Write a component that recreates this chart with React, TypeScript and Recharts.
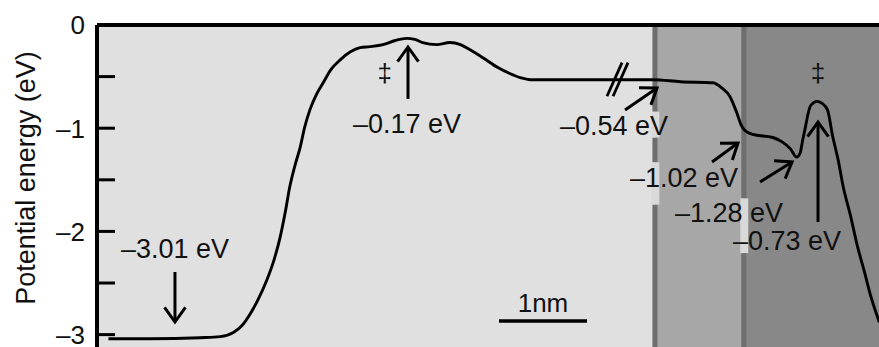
import React from 'react'
import {
  LineChart,
  Line,
  XAxis,
  YAxis,
  ReferenceArea,
  ReferenceLine,
  ReferenceDot,
} from 'recharts'

// reaction coordinate (nm) and potential energy (eV)
const POSITION_NM = [
  0.13, 0.6, 1.17, 1.4, 1.55, 1.65, 1.74, 1.83, 1.93, 2.01, 2.08, 2.14, 2.19, 2.25, 2.31, 2.36,
  2.42, 2.49, 2.57, 2.66, 2.76, 2.88, 2.99, 3.1, 3.25, 3.39, 3.52, 3.61, 3.7, 3.86, 4.01, 4.13,
  4.24, 4.39, 4.55, 4.69, 4.81, 4.92, 5.26, 5.91, 6.32, 6.63, 7.0, 7.1, 7.19, 7.27, 7.32, 7.36,
  7.45, 7.68, 7.78, 7.88, 7.95, 7.99, 8.02, 8.05, 8.08, 8.11, 8.18, 8.24, 8.3, 8.36, 8.42, 8.48,
  8.56, 8.64, 8.72, 8.78, 8.89,
]
const ENERGY_EV = [
  -3.04, -3.04, -3.03, -3.02, -2.98, -2.91, -2.8, -2.66, -2.47, -2.28, -2.06, -1.81, -1.57, -1.36,
  -1.18, -0.99, -0.82, -0.68, -0.56, -0.43, -0.34, -0.26, -0.22, -0.21, -0.19, -0.15, -0.13, -0.14,
  -0.17, -0.19, -0.17, -0.19, -0.24, -0.32, -0.41, -0.47, -0.51, -0.53, -0.53, -0.53, -0.53, -0.55,
  -0.56, -0.61, -0.69, -0.85, -0.97, -1.02, -1.06, -1.09, -1.13, -1.2, -1.28, -1.24, -1.11, -0.99,
  -0.86, -0.78, -0.74, -0.76, -0.82, -1.08, -1.3, -1.57, -1.84, -2.14, -2.39, -2.59, -2.88,
]
const Y_TICKS = [0, -0.5, -1, -1.5, -2, -2.5, -3]
const X_MAX = 8.886
const Y_MIN = -3.12

// shaded zones (nm)
const ZONES = [
  { x1: 0, x2: 6.34, fill: '#e0e0e0' },
  { x1: 6.34, x2: 7.35, fill: '#a7a7a7' },
  { x1: 7.35, x2: X_MAX, fill: '#888888' },
]
// zone separators, drawn in pieces so labels can sit on top
const SEPARATORS = [
  { x: 6.34, from: 0, to: -0.84 },
  { x: 6.34, from: -1.09, to: -1.33 },
  { x: 6.34, from: -1.74, to: Y_MIN },
  { x: 7.35, from: 0, to: -1.68 },
  { x: 7.35, from: -2.21, to: Y_MIN },
]
const PATCHES = [
  { x1: 6.3, x2: 6.39, y1: -0.84, y2: -1.09 },
  { x1: 6.3, x2: 6.39, y1: -1.33, y2: -1.74 },
  { x1: 7.31, x2: 7.4, y1: -1.68, y2: -2.21 },
]

const LABELS = [
  { text: '–3.01 eV', x: 0.273, y: -2.258 },
  { text: '–0.17 eV', x: 2.909, y: -1.047 },
  { text: '–0.54 eV', x: 5.261, y: -1.066 },
  { text: '–1.02 eV', x: 6.057, y: -1.57 },
  { text: '–1.28 eV', x: 6.568, y: -1.909 },
  { text: '–0.73 eV', x: 7.227, y: -2.18 },
]
const DAGGERS = [
  { x: 3.27, y: -0.552 },
  { x: 8.193, y: -0.552 },
]
const ARROWS = [
  { from: [0.886, -2.393], to: [0.886, -2.878] },
  { from: [3.534, -0.717], to: [3.534, -0.213] },
  { from: [6.0, -0.824], to: [6.364, -0.61] },
  { from: [6.989, -1.327], to: [7.284, -1.143] },
  { from: [7.534, -1.521], to: [7.898, -1.327] },
  { from: [8.193, -1.909], to: [8.193, -0.94] },
]
const BREAK_MARKS = [
  { from: [5.795, -0.69], to: [5.966, -0.364] },
  { from: [5.864, -0.69], to: [6.034, -0.364] },
]
const SCALE_BAR = { from: 4.568, to: 5.568, y: -2.868, text: '1nm', textY: -2.781 }

const FONT = '"Liberation Sans", Arial, Helvetica, sans-serif'
const INK = '#111'

const rows = POSITION_NM.map((x, i) => ({ x, energy: ENERGY_EV[i] }))

function YTick(props: any) {
  const { x, y, payload } = props
  const v = payload.value as number
  const major = Number.isInteger(v)
  return (
    <g>
      <line x1={x + 12} x2={x + 30} y1={y} y2={y} stroke="#000" strokeWidth={3} />
      {major && (
        <text x={x} y={y} dy="0.36em" textAnchor="end" fontFamily={FONT} fontSize={26} fill={INK}>
          {v === 0 ? '0' : '–' + Math.abs(v)}
        </text>
      )}
    </g>
  )
}

function ArrowShape(props: any) {
  const { x1, y1, x2, y2 } = props
  const a = Math.atan2(y2 - y1, x2 - x1)
  const len = 18
  const spread = 0.62
  const l = [x2 - len * Math.cos(a - spread), y2 - len * Math.sin(a - spread)]
  const r = [x2 - len * Math.cos(a + spread), y2 - len * Math.sin(a + spread)]
  return (
    <g>
      <line x1={x1} y1={y1} x2={x2} y2={y2} stroke="#000" strokeWidth={3} />
      <polyline
        points={`${l[0]},${l[1]} ${x2},${y2} ${r[0]},${r[1]}`}
        fill="none"
        stroke="#000"
        strokeWidth={3}
      />
    </g>
  )
}

const textShape = (text: string, anchor: string, size: number) => (p: any) => (
  <text x={p.cx} y={p.cy} textAnchor={anchor} fontFamily={FONT} fontSize={size} fill={INK}>
    {text}
  </text>
)

function AxisTitle(props: any) {
  const vb = props.viewBox || { x: 0, y: 25, width: 97, height: 322 }
  const cx = vb.x + 26
  const cy = vb.y + vb.height / 2 - 8
  return (
    <text
      x={cx}
      y={cy}
      transform={`rotate(-90, ${cx}, ${cy})`}
      textAnchor="middle"
      dominantBaseline="central"
      fontFamily={FONT}
      fontSize={27}
      fill={INK}
    >
      Potential energy (eV)
    </text>
  )
}

export default function App() {
  return (
    <div style={{ position: 'absolute', left: 0, top: 0, width: 879, height: 347, background: '#fff' }}>
      <LineChart width={879} height={347} data={rows} margin={{ top: 25, right: 0, bottom: 0, left: 0 }}>
        <XAxis type="number" dataKey="x" domain={[0, X_MAX]} hide allowDataOverflow />
        <YAxis
          type="number"
          domain={[Y_MIN, 0]}
          ticks={Y_TICKS}
          interval={0}
          width={97}
          tickSize={0}
          tickMargin={12}
          tickLine={false}
          axisLine={{ stroke: '#000', strokeWidth: 4 }}
          tick={<YTick />}
          label={<AxisTitle />}
          allowDataOverflow
        />

        {ZONES.map((z, i) => (
          <ReferenceArea key={'z' + i} x1={z.x1} x2={z.x2} fill={z.fill} fillOpacity={1} stroke="none" zIndex={-200} />
        ))}
        {SEPARATORS.map((s, i) => (
          <ReferenceLine
            key={'s' + i}
            segment={[{ x: s.x, y: s.from }, { x: s.x, y: s.to }]}
            stroke="#6e6e6e"
            strokeWidth={5}
            zIndex={-150}
          />
        ))}
        {PATCHES.map((p, i) => (
          <ReferenceArea key={'p' + i} x1={p.x1} x2={p.x2} y1={p.y1} y2={p.y2} fill="#d9d9d9" fillOpacity={1} stroke="none" zIndex={-140} />
        ))}

        <ReferenceLine y={0} stroke="#000" strokeWidth={4} zIndex={700} />

        <Line
          type="monotone"
          dataKey="energy"
          stroke="#000"
          strokeWidth={2.9}
          dot={false}
          activeDot={false}
          isAnimationActive={false}
          zIndex={450}
        />

        {BREAK_MARKS.map((b, i) => (
          <ReferenceLine
            key={'b' + i}
            segment={[{ x: b.from[0], y: b.from[1] }, { x: b.to[0], y: b.to[1] }]}
            stroke="#000"
            strokeWidth={2.8}
            zIndex={700}
          />
        ))}
        {ARROWS.map((a, i) => (
          <ReferenceLine
            key={'a' + i}
            segment={[{ x: a.from[0], y: a.from[1] }, { x: a.to[0], y: a.to[1] }]}
            shape={ArrowShape}
            zIndex={700}
          />
        ))}
        <ReferenceLine
          segment={[{ x: SCALE_BAR.from, y: SCALE_BAR.y }, { x: SCALE_BAR.to, y: SCALE_BAR.y }]}
          stroke="#000"
          strokeWidth={3.5}
          zIndex={700}
        />

        {LABELS.map((l, i) => (
          <ReferenceDot key={'l' + i} x={l.x} y={l.y} r={0} shape={textShape(l.text, 'start', 27)} zIndex={800} />
        ))}
        {DAGGERS.map((d, i) => (
          <ReferenceDot key={'d' + i} x={d.x} y={d.y} r={0} shape={textShape('‡', 'middle', 26)} zIndex={800} />
        ))}
        <ReferenceDot
          x={(SCALE_BAR.from + SCALE_BAR.to) / 2}
          y={SCALE_BAR.textY}
          r={0}
          shape={textShape(SCALE_BAR.text, 'middle', 26)}
          zIndex={800}
        />
      </LineChart>
    </div>
  )
}
